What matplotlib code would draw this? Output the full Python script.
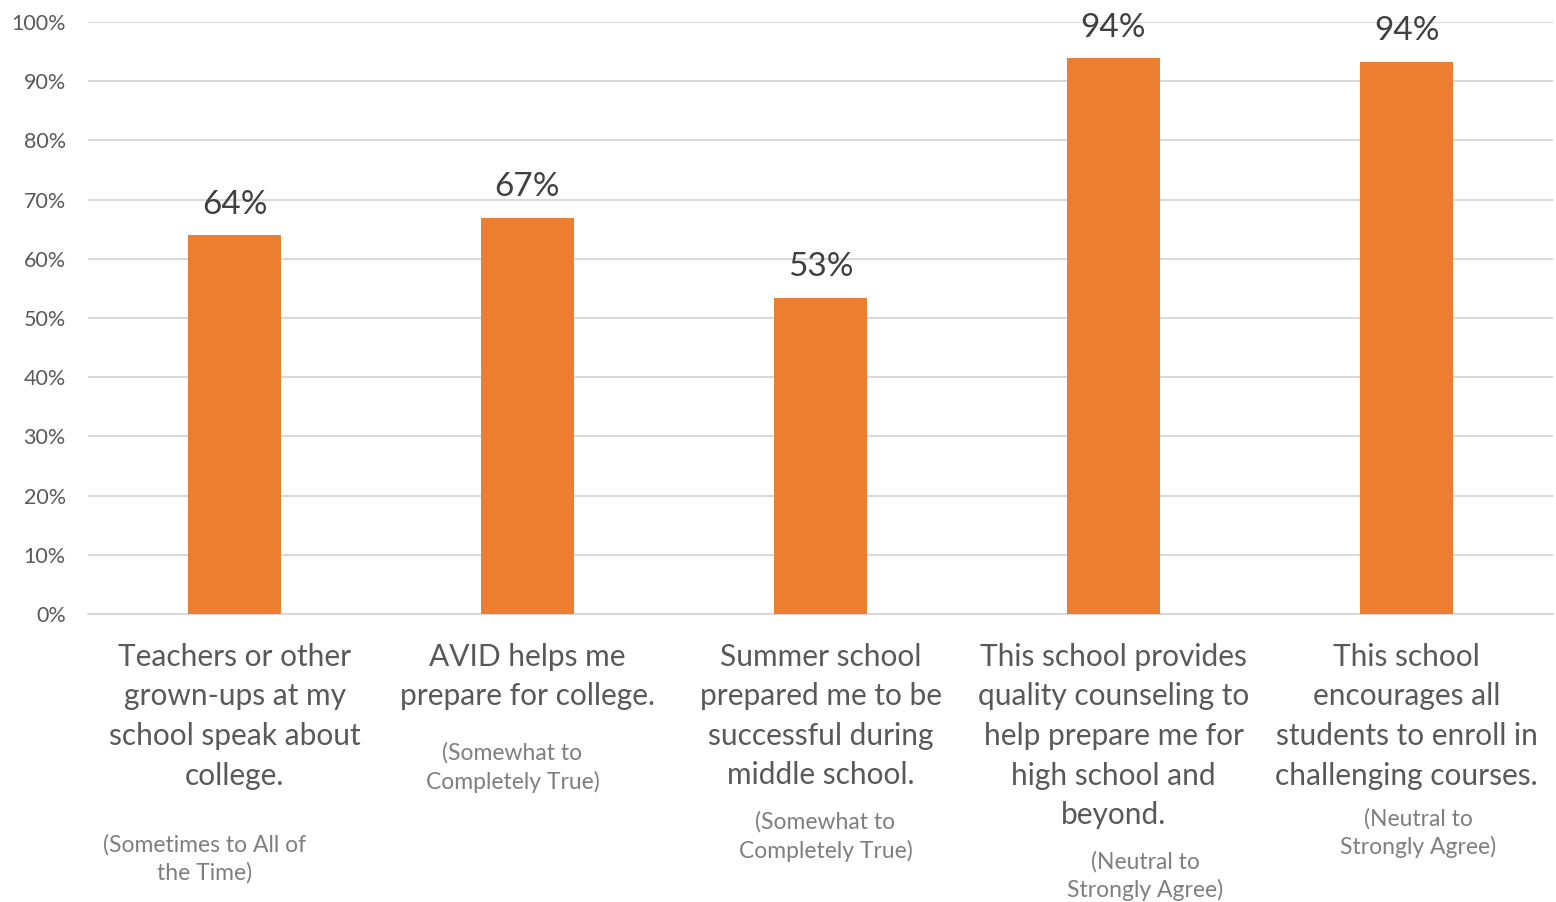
import matplotlib
matplotlib.use("Agg")
import matplotlib.pyplot as plt
from matplotlib.transforms import blended_transform_factory

categories = [
    "Teachers or other\ngrown-ups at my\nschool speak about\ncollege.",
    "AVID helps me\nprepare for college.",
    "Summer school\nprepared me to be\nsuccessful during\nmiddle school.",
    "This school provides\nquality counseling to\nhelp prepare me for\nhigh school and\nbeyond.",
    "This school\nencourages all\nstudents to enroll in\nchallenging courses.",
]
subtitles = [
    "(Sometimes to All of\nthe Time)",
    "(Somewhat to\nCompletely True)",
    "(Somewhat to\nCompletely True)",
    "(Neutral to\nStrongly Agree)",
    "(Neutral to\nStrongly Agree)",
]
values = [64.0, 66.9, 53.4, 93.9, 93.3]
value_labels = ["64%", "67%", "53%", "94%", "94%"]
yticks = [0, 10, 20, 30, 40, 50, 60, 70, 80, 90, 100]
ytick_labels = ["0%", "10%", "20%", "30%", "40%", "50%", "60%", "70%", "80%", "90%", "100%"]

plt.rcParams['font.family'] = ['Lato', 'DejaVu Sans']

W, H = 1556, 902
fig = plt.figure(figsize=(W / 100, H / 100), dpi=100)
ax = fig.add_axes([88 / W, 1 - 614 / H, 1465 / W, 592 / H])

x = list(range(len(values)))
ax.bar(x, values, width=0.314, color="#ED7D31", zorder=3)
ax.set_xlim(-0.5, 4.5)
ax.set_ylim(0, 100)
ax.set_yticks(yticks)
ax.set_yticklabels(ytick_labels, fontsize=15.5, color="#595959")
ax.tick_params(axis='y', length=0, pad=16)
ax.tick_params(axis='x', length=0)
ax.set_xticks([])
ax.grid(axis='y', color="#D9D9D9", linewidth=1.5, zorder=0)
for s in ["top", "right", "left"]:
    ax.spines[s].set_visible(False)
ax.spines["bottom"].set_color("#D9D9D9")
ax.spines["bottom"].set_linewidth(1.5)

for i, (v, lab) in enumerate(zip(values, value_labels)):
    ax.annotate(lab, xy=(i, v), xytext=(0, 22), textcoords="offset points",
                ha="center", va="center", fontsize=24, color="#404040")

tr = blended_transform_factory(ax.transData, fig.transFigure)
for i, c in enumerate(categories):
    ax.text(i, 1 - 643 / H, c, transform=tr, ha="center", va="top",
            fontsize=21.5, color="#595959", linespacing=1.5)

sub_dx = [-0.102, -0.051, 0.017, 0.109, 0.041]
sub_y = [859, 767.5, 836.5, 876, 833]
for i, s in enumerate(subtitles):
    ax.text(i + sub_dx[i], 1 - sub_y[i] / H, s, transform=tr, ha="center", va="center",
            fontsize=16.5, color="#7F7F7F", linespacing=1.4)

fig.savefig("out.png", dpi=100)
